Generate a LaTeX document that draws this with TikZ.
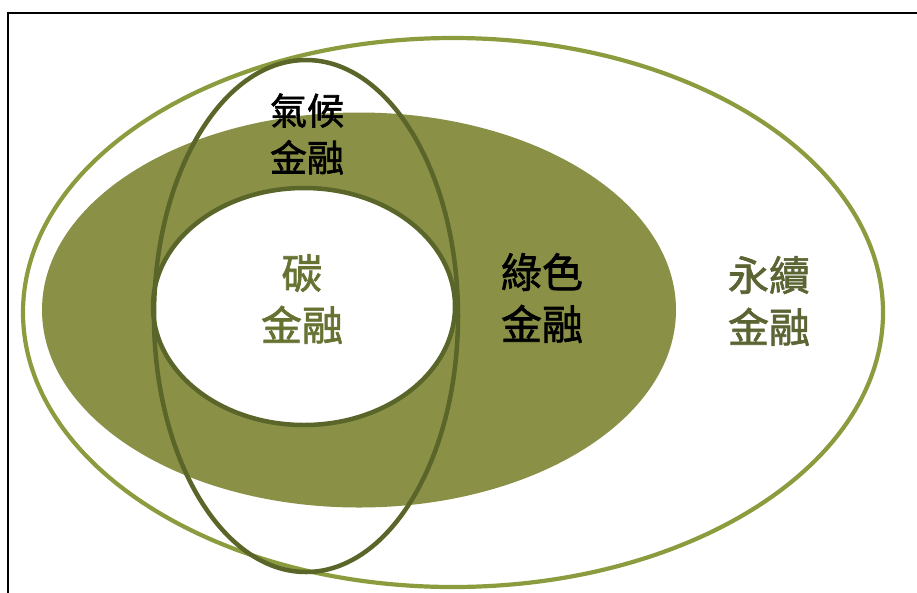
\documentclass[tikz,border=0pt]{standalone}
\usepackage{fontspec}
\newfontfamily\cjk{Noto Sans CJK TC}[FakeBold=1.6]
\definecolor{lightol}{HTML}{8B9C3E}
\definecolor{fillol}{HTML}{8A9046}
\definecolor{darkol}{HTML}{5A6629}
\definecolor{txtol}{HTML}{667232}
\definecolor{txtgr}{HTML}{5B6433}
\tikzset{
  lbl/.style={font=\cjk\fontsize{41}{52}\selectfont, align=center, inner sep=0pt},
  smalllbl/.style={font=\cjk\fontsize{37}{47}\selectfont, align=center, inner sep=0pt},
  darkring/.style={draw=darkol, line width=4.5pt},
}
\begin{document}
\begin{tikzpicture}[x=1pt,y=-1pt]
\useasboundingbox (0,0) rectangle (917,592);
\clip (0,0) rectangle (917,592);
\fill[white] (0,0) rectangle (917,592);
\draw[black, line width=1.3pt] (8,13) rectangle (940,620);
% outer sustainable finance ellipse
\draw[lightol, line width=4.2pt] (453,312.5) ellipse [x radius=430, y radius=274.5];
% green finance filled ellipse
\fill[fillol] (359,310) ellipse [x radius=317, y radius=197.5];
% carbon finance white ellipse
\draw[darkring, fill=white] (304,306.5) ellipse [x radius=151, y radius=118.5];
% climate finance tall ellipse
\draw[darkring] (306,316) ellipse [x radius=152, y radius=256];
% labels
\node[smalllbl, text=black] (climate) at (307,134) {氣候\\金融};
\node[lbl, text=txtol] (carbon) at (302,299) {碳\\金融};
\node[lbl, text=black] (green) at (542,298) {綠色\\金融};
\node[lbl, text=txtgr] (sustain) at (769,301) {永續\\金融};
\end{tikzpicture}
\end{document}
